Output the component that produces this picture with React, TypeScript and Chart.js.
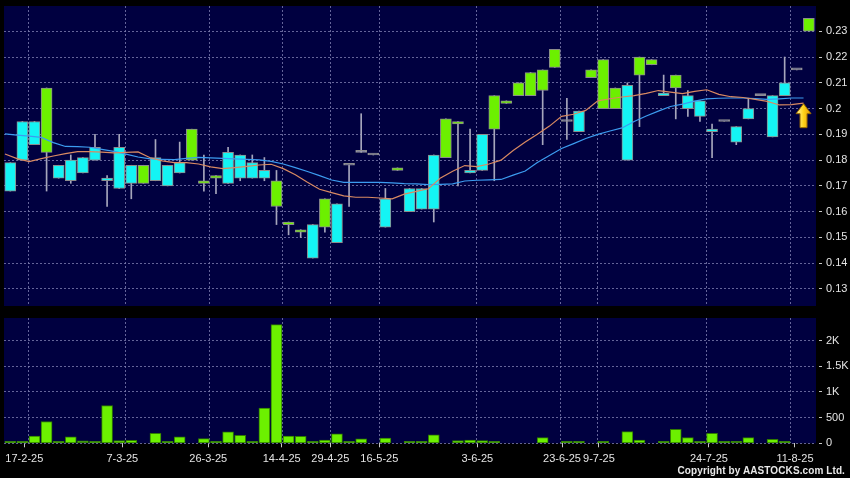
import React, { useEffect, useRef } from 'react';
import { Chart, registerables } from 'chart.js';

Chart.register(...registerables);

// ---------------- data ----------------
const openP = [0.179, 0.195, 0.195, 0.183, 0.178, 0.180, 0.181, 0.185, 0.173, 0.185,
  0.178, 0.171, 0.181, 0.178, 0.179, 0.180, 0.171, 0.173, 0.183, 0.182,
  0.179, 0.176, 0.162, 0.155, 0.152, 0.155, 0.154, 0.163, 0.178, 0.183,
  0.182, 0.165, 0.176, 0.169, 0.169, 0.182, 0.181, 0.194, 0.176, 0.190,
  0.192, 0.202, 0.205, 0.205, 0.207, 0.216, 0.195, 0.199, 0.212, 0.200,
  0.200, 0.209, 0.213, 0.217, 0.206, 0.208, 0.205, 0.203, 0.192, 0.195,
  0.193, 0.200, 0.205, 0.205, 0.210, 0.215, 0.230];
const closeP = [0.168, 0.180, 0.186, 0.208, 0.173, 0.172, 0.175, 0.180, 0.172, 0.169,
  0.171, 0.178, 0.172, 0.170, 0.175, 0.192, 0.172, 0.174, 0.171, 0.173,
  0.173, 0.173, 0.172, 0.156, 0.153, 0.142, 0.165, 0.148, 0.178, 0.183,
  0.182, 0.154, 0.177, 0.160, 0.161, 0.161, 0.196, 0.195, 0.175, 0.176,
  0.205, 0.203, 0.210, 0.214, 0.215, 0.223, 0.195, 0.191, 0.215, 0.219,
  0.208, 0.180, 0.220, 0.219, 0.205, 0.213, 0.200, 0.197, 0.191, 0.195,
  0.187, 0.196, 0.205, 0.189, 0.205, 0.215, 0.235];
const highP = [0.179, 0.195, 0.195, 0.208, 0.178, 0.182, 0.181, 0.190, 0.174, 0.190,
  0.178, 0.178, 0.188, 0.178, 0.187, 0.192, 0.182, 0.174, 0.185, 0.182,
  0.182, 0.181, 0.176, 0.156, 0.153, 0.155, 0.165, 0.163, 0.178, 0.198,
  0.182, 0.169, 0.177, 0.169, 0.169, 0.182, 0.196, 0.195, 0.192, 0.190,
  0.205, 0.203, 0.210, 0.214, 0.215, 0.223, 0.204, 0.199, 0.215, 0.219,
  0.208, 0.210, 0.220, 0.219, 0.213, 0.213, 0.207, 0.203, 0.194, 0.195,
  0.193, 0.204, 0.205, 0.205, 0.220, 0.215, 0.235];
const lowP = [0.168, 0.180, 0.186, 0.168, 0.173, 0.171, 0.175, 0.180, 0.162, 0.169,
  0.165, 0.171, 0.172, 0.170, 0.175, 0.180, 0.168, 0.167, 0.171, 0.172,
  0.173, 0.172, 0.155, 0.151, 0.150, 0.142, 0.152, 0.148, 0.162, 0.183,
  0.182, 0.154, 0.176, 0.160, 0.161, 0.156, 0.181, 0.170, 0.175, 0.176,
  0.172, 0.202, 0.205, 0.205, 0.186, 0.216, 0.188, 0.191, 0.212, 0.200,
  0.200, 0.180, 0.193, 0.217, 0.205, 0.196, 0.197, 0.195, 0.181, 0.195,
  0.186, 0.196, 0.205, 0.189, 0.205, 0.215, 0.230];
const volume = [10, 20, 143, 424, 10, 124, 46, 8, 736, 52,
  59, 0, 196, 8, 124, 0, 91, 10, 222, 156,
  10, 684, 2310, 143, 137, 10, 65, 182, 8, 85,
  0, 104, 0, 10, 15, 163, 0, 52, 62, 55,
  25, 0, 0, 0, 110, 0, 25, 20, 0, 30,
  0, 227, 65, 0, 10, 274, 112, 25, 196, 30,
  40, 110, 0, 78, 10, 0, 0];
// orange moving average
const maShort = [0.1824, 0.1806, 0.1794, 0.1806, 0.1816, 0.1825, 0.1833, 0.1833, 0.1831, 0.1828,
  0.1830, 0.1832, 0.1809, 0.1797, 0.1790, 0.1790, 0.1785, 0.1774, 0.1767, 0.1771,
  0.1776, 0.1781, 0.1784, 0.1767, 0.1743, 0.1714, 0.1687, 0.1674, 0.1661, 0.1656,
  0.1656, 0.1653, 0.1650, 0.1668, 0.1679, 0.1689, 0.1731, 0.1757, 0.1779, 0.1775,
  0.1785, 0.1800, 0.1837, 0.1870, 0.1900, 0.1932, 0.1970, 0.1978, 0.1993, 0.2030,
  0.2038, 0.2045, 0.2050, 0.2059, 0.2070, 0.2064, 0.2058, 0.2067, 0.2073, 0.2055,
  0.2046, 0.2043, 0.2036, 0.2028, 0.2014, 0.2015, 0.2021];
// blue moving average
const maLong = [0.1902, 0.1897, 0.1893, 0.1888, 0.1868, 0.1853, 0.1852, 0.1850, 0.1842, 0.1834,
  0.1823, 0.1812, 0.1805, 0.1803, 0.1802, 0.1807, 0.1811, 0.1809, 0.1807, 0.1805,
  0.1803, 0.1801, 0.1795, 0.1785, 0.1771, 0.1756, 0.1740, 0.1723, 0.1714, 0.1714,
  0.1714, 0.1714, 0.1712, 0.1709, 0.1708, 0.1705, 0.1706, 0.1708, 0.1719, 0.1722,
  0.1723, 0.1725, 0.1742, 0.1758, 0.1791, 0.1818, 0.1845, 0.1864, 0.1884, 0.1900,
  0.1913, 0.1925, 0.1950, 0.1971, 0.1990, 0.2008, 0.2017, 0.2029, 0.2038, 0.2040,
  0.2041, 0.2041, 0.2039, 0.2036, 0.2038, 0.2041, 0.2041];

const dateLabels = ['17-2-25', '7-3-25', '26-3-25', '14-4-25', '29-4-25', '16-5-25', '3-6-25', '23-6-25', '9-7-25', '24-7-25', '11-8-25'];
const dateLabelAt = [1.16, 9.26, 16.36, 22.43, 26.45, 30.5, 38.6, 45.6, 48.65, 57.74, 64.85];
const dateGridAt = [1.5, 9.5, 16.5, 22.5, 26.5, 30.5, 38.5, 45.5, 48.5, 57.5, 64.5];
const priceTicks = [0.13, 0.14, 0.15, 0.16, 0.17, 0.18, 0.19, 0.2, 0.21, 0.22, 0.23];
const volumeTicks = [0, 500, 1000, 1500, 2000];

// ---------------- styles ----------------
const FONT = "'Liberation Sans', Arial, sans-serif";
const NAVY = '#000040';
const GRID = 'rgba(125,125,175,0.8)';
const TEXT = '#e4e4e4';
const UP = '#6cf000';
const DOWN = '#14f4f4';
const FLAT = '#a0a0b4';
const BODY_BORDER = '#8c8c8c';
const WICK = '#a6a6bc';
const VOL_FILL = '#6cf000';
const VOL_BORDER = '#2f7a00';
const MA_SHORT_COLOR = '#d98a62';
const MA_LONG_COLOR = '#3c9cf0';
const MA_SHIFT = -0.44;
const X_MIN = -0.52;
const X_MAX = 66.59;

const idx = closeP.map((_, i) => i);

const plotBg = {
  id: 'plotBg',
  beforeDraw(chart: any) {
    const { ctx, chartArea: a } = chart;
    ctx.save();
    ctx.fillStyle = NAVY;
    ctx.fillRect(a.left, a.top, a.right - a.left, a.bottom - a.top);
    ctx.restore();
  },
};

const arrowPlugin = {
  id: 'arrowMark',
  afterDatasetsDraw(chart: any) {
    const meta = chart.getDatasetMeta(3);
    const p = meta.data[meta.data.length - 1];
    if (!p) return;
    const { ctx } = chart;
    const x = p.x;
    const y = p.y + 0.5;
    ctx.save();
    const g = ctx.createLinearGradient(x - 7, 0, x + 7, 0);
    g.addColorStop(0, '#fff4a0');
    g.addColorStop(0.5, '#ffd21a');
    g.addColorStop(1, '#e89a00');
    ctx.beginPath();
    ctx.moveTo(x, y);
    ctx.lineTo(x + 7.5, y + 10);
    ctx.lineTo(x + 3.5, y + 10);
    ctx.lineTo(x + 3.5, y + 24);
    ctx.lineTo(x - 3.5, y + 24);
    ctx.lineTo(x - 3.5, y + 10);
    ctx.lineTo(x - 7.5, y + 10);
    ctx.closePath();
    ctx.fillStyle = g;
    ctx.fill();
    ctx.strokeStyle = '#9a6a00';
    ctx.lineWidth = 1;
    ctx.stroke();
    ctx.restore();
  },
};

const fixY = (w: number) => (s: any) => {
  s.width = w;
  s.paddingTop = 0;
  s.paddingBottom = 0;
};
const fixX = (h: number) => (s: any) => {
  s.height = h;
  s.paddingLeft = 0;
  s.paddingRight = 0;
};
const setTicks = (vals: number[]) => (s: any) => {
  s.ticks = vals.map((v) => ({ value: v }));
};

const tickFont = { family: FONT, size: 11 };

function priceConfig(): any {
  const bodyColor = idx.map((i) => (closeP[i] > openP[i] ? UP : closeP[i] < openP[i] ? DOWN : FLAT));
  return {
    type: 'bar',
    data: {
      datasets: [
        {
          type: 'bar',
          label: 'wick',
          data: idx.map((i) => ({ x: i, y: [lowP[i], highP[i]] })),
          backgroundColor: WICK,
          barThickness: 1,
          grouped: false,
          order: 3,
        },
        {
          type: 'bar',
          label: 'body',
          data: idx.map((i) => ({ x: i, y: [openP[i], closeP[i]] })),
          backgroundColor: bodyColor,
          borderColor: BODY_BORDER,
          borderWidth: 1,
          borderSkipped: false,
          barThickness: 11,
          minBarLength: 2,
          grouped: false,
          order: 2,
        },
        {
          type: 'line',
          label: 'MA long',
          data: idx.map((i) => ({ x: i + MA_SHIFT, y: maLong[i] })),
          borderColor: MA_LONG_COLOR,
          borderWidth: 1.2,
          pointRadius: 0,
          tension: 0,
          order: 1,
        },
        {
          type: 'line',
          label: 'MA short',
          data: idx.map((i) => ({ x: i + MA_SHIFT, y: maShort[i] })),
          borderColor: MA_SHORT_COLOR,
          borderWidth: 1.2,
          pointRadius: 0,
          tension: 0,
          order: 0,
        },
      ],
    },
    options: {
      responsive: false,
      animation: false,
      devicePixelRatio: 1,
      layout: { padding: { left: 4, top: 6, right: 0, bottom: 4 } },
      plugins: { legend: { display: false }, tooltip: { enabled: false } },
      scales: {
        x: {
          type: 'linear',
          min: X_MIN,
          max: X_MAX,
          offset: false,
          grid: { color: GRID, lineWidth: 1, drawTicks: false, offset: false },
          border: { display: false, dash: [2, 2] },
          ticks: { display: false },
          afterBuildTicks: setTicks(dateGridAt),
          afterFit: fixX(0),
        },
        y: {
          type: 'linear',
          position: 'right',
          min: 0.1234,
          max: 0.2398,
          grid: {
            color: GRID,
            tickColor: '#c8c8c8',
            tickLength: 7,
            tickBorderDash: [3, 3],
            tickBorderDashOffset: 3,
          },
          border: { display: false, dash: [2, 2] },
          ticks: {
            color: TEXT,
            font: tickFont,
            padding: 3,
            autoSkip: false,
            callback: (v: number) => String(Number(Number(v).toFixed(2))),
          },
          afterBuildTicks: setTicks(priceTicks),
          afterFit: fixY(34),
        },
      },
    },
    plugins: [plotBg, arrowPlugin],
  };
}

function volumeConfig(): any {
  return {
    type: 'bar',
    data: {
      datasets: [
        {
          label: 'volume',
          data: idx.map((i) => ({ x: i, y: volume[i] > 0 ? volume[i] : null })),
          backgroundColor: VOL_FILL,
          borderColor: VOL_BORDER,
          borderWidth: 1,
          borderSkipped: false,
          barThickness: 11,
          minBarLength: 2,
          grouped: false,
          xAxisID: 'x',
          yAxisID: 'y',
        },
      ],
    },
    options: {
      responsive: false,
      animation: false,
      devicePixelRatio: 1,
      layout: { padding: { left: 4, top: 8, right: 0, bottom: 0 } },
      plugins: { legend: { display: false }, tooltip: { enabled: false } },
      scales: {
        x: {
          type: 'linear',
          position: 'bottom',
          min: X_MIN,
          max: X_MAX,
          offset: false,
          grid: { color: GRID, drawTicks: false, offset: false },
          border: { display: false, dash: [2, 2] },
          ticks: { display: false },
          afterBuildTicks: setTicks(dateGridAt),
          afterFit: fixX(0),
        },
        x2: {
          type: 'linear',
          position: 'bottom',
          min: X_MIN,
          max: X_MAX,
          offset: false,
          grid: {
            drawOnChartArea: false,
            drawTicks: true,
            tickLength: 4,
            tickColor: '#c8c8c8',
            tickBorderDash: [],
            offset: false,
          },
          border: { display: false },
          ticks: {
            color: TEXT,
            font: tickFont,
            padding: 5,
            autoSkip: false,
            maxRotation: 0,
            minRotation: 0,
            callback: (_v: number, i: number) => dateLabels[i],
          },
          afterBuildTicks: setTicks(dateLabelAt),
          afterFit: fixX(34.7),
        },
        y: {
          type: 'linear',
          position: 'right',
          min: 0,
          max: 2440,
          grid: {
            color: GRID,
            tickColor: '#c8c8c8',
            tickLength: 7,
            tickBorderDash: [3, 3],
            tickBorderDashOffset: 3,
          },
          border: { display: false, dash: [2, 2] },
          ticks: {
            color: TEXT,
            font: tickFont,
            padding: 3,
            autoSkip: false,
            callback: (v: number) => (v >= 1000 ? `${v / 1000}K` : String(v)),
          },
          afterBuildTicks: setTicks(volumeTicks),
          afterFit: fixY(34),
        },
      },
    },
    plugins: [plotBg],
  };
}

export default function App() {
  const priceRef = useRef<HTMLCanvasElement>(null);
  const volRef = useRef<HTMLCanvasElement>(null);

  useEffect(() => {
    const c1 = new Chart(priceRef.current as HTMLCanvasElement, priceConfig());
    const c2 = new Chart(volRef.current as HTMLCanvasElement, volumeConfig());
    return () => {
      c1.destroy();
      c2.destroy();
    };
  }, []);

  return (
    <div style={{ position: 'absolute', left: 0, top: 0, width: 850, height: 478, background: '#000', overflow: 'hidden' }}>
      <canvas
        ref={priceRef}
        width={850}
        height={310}
        style={{ position: 'absolute', left: 0, top: 0, width: 850, height: 310, display: 'block' }}
      />
      <canvas
        ref={volRef}
        width={850}
        height={168}
        style={{ position: 'absolute', left: 0, top: 310, width: 850, height: 168, display: 'block' }}
      />
      <div
        style={{
          position: 'absolute',
          right: 5,
          top: 465,
          font: `bold 10px ${FONT}`,
          lineHeight: '12px',
          color: '#e8e8e8',
          whiteSpace: 'nowrap',
          letterSpacing: '0.1px',
        }}
      >
        Copyright by AASTOCKS.com Ltd.
      </div>
    </div>
  );
}
